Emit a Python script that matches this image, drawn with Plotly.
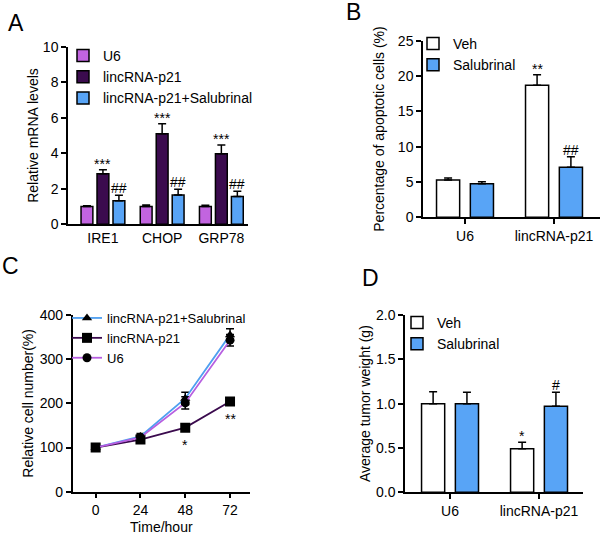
import plotly.graph_objects as go

# ---------------- data ----------------
# Panel A
genes = ["IRE1", "CHOP", "GRP78"]
a_u6 = [1.0, 1.0, 1.0]
a_u6_err = [0.05, 0.08, 0.07]
a_linc = [2.85, 5.1, 3.97]
a_linc_err = [0.22, 0.56, 0.5]
a_salu = [1.33, 1.65, 1.56]
a_salu_err = [0.3, 0.33, 0.3]
a_linc_sig = ["***", "***", "***"]
a_salu_sig = ["##", "##", "##"]

# Panel B
b_groups = ["U6", "lincRNA-p21"]
b_veh = [5.28, 18.68]
b_veh_err = [0.28, 1.5]
b_salu = [4.76, 7.08]
b_salu_err = [0.28, 1.5]
b_veh_sig = ["", "**"]
b_salu_sig = ["", "##"]

# Panel C
hours = [0, 24, 48, 72]
c_salu = [100, 125, 211, 355]
c_salu_err = [6, 7, 14, 14]
c_linc = [100, 118, 145, 204]
c_linc_err = [6, 6, 8, 8]
c_u6 = [100, 123, 201, 343]
c_u6_err = [6, 6, 14, 13]
c_sig = ["", "", "*", "**"]

# Panel D
d_groups = ["U6", "lincRNA-p21"]
d_veh = [1.0, 0.49]
d_veh_err = [0.135, 0.075]
d_salu = [1.0, 0.97]
d_salu_err = [0.13, 0.16]
d_veh_sig = ["", "*"]
d_salu_sig = ["", "#"]

# ---------------- style ----------------
FONT = "Arial, Liberation Sans, sans-serif"
U6C = "#c264e0"
LINC = "#3b0b4e"
BLUE = "#58a4f6"
W = 600
H = 535


def px_x(p):
    return p / W


def px_y(p):
    return 1 - p / H


fig = go.Figure()


def err(arr):
    return dict(type="data", array=arr, arrayminus=[0] * len(arr), symmetric=False,
                color="black", thickness=1.5, width=4)


def bar(x, y, e, name, color, width, offset, xa, ya, leg):
    fig.add_trace(go.Bar(
        x=x, y=y, name=name, width=width, offset=offset,
        marker=dict(color=color, line=dict(color="black", width=1.5)),
        error_y=err(e), xaxis=xa, yaxis=ya, legend=leg,
    ))


# Panel A bars
aw = 0.2
a_centers = [-0.27, 0.0, 0.27]
bar(genes, a_u6, a_u6_err, "U6", U6C, aw, a_centers[0] - aw / 2, "x", "y", "legend")
bar(genes, a_linc, a_linc_err, "lincRNA-p21", LINC, aw, a_centers[1] - aw / 2, "x", "y", "legend")
bar(genes, a_salu, a_salu_err, "lincRNA-p21+Salubrinal", BLUE, aw, a_centers[2] - aw / 2, "x", "y", "legend")

# Panel B bars
bw = 0.26
bc = [-0.19, 0.19]
bar(b_groups, b_veh, b_veh_err, "Veh", "white", bw, bc[0] - bw / 2, "x2", "y2", "legend2")
bar(b_groups, b_salu, b_salu_err, "Salubrinal", BLUE, bw, bc[1] - bw / 2, "x2", "y2", "legend2")

# Panel D bars
bar(d_groups, d_veh, d_veh_err, "Veh", "white", bw, bc[0] - bw / 2, "x4", "y4", "legend4")
bar(d_groups, d_salu, d_salu_err, "Salubrinal", BLUE, bw, bc[1] - bw / 2, "x4", "y4", "legend4")

# Panel C lines
for name, vals, e, lc, sym, ms in [
    ("lincRNA-p21+Salubrinal", c_salu, c_salu_err, "#4f9ff0", "triangle-up", 9),
    ("lincRNA-p21", c_linc, c_linc_err, LINC, "square", 10),
    ("U6", c_u6, c_u6_err, "#b75fe0", "circle", 9),
]:
    fig.add_trace(go.Scatter(
        x=hours, y=vals, name=name, mode="lines+markers",
        line=dict(color=lc, width=1.8),
        marker=dict(color="black", symbol=sym, size=ms),
        error_y=dict(type="data", array=e, color="black", thickness=1.5, width=4),
        xaxis="x3", yaxis="y3", legend="legend3",
    ))

annotations = []


def sig(xs, ys, es, texts, xref, yref, shift):
    for xv, yv, ev, t in zip(xs, ys, es, texts):
        if t:
            annotations.append(dict(
                x=xv, y=yv + ev, xref=xref, yref=yref, text=t, showarrow=False,
                yanchor="bottom", yshift=shift, font=dict(size=14, family=FONT, color="black")))


sig([i + a_centers[1] for i in range(3)], a_linc, a_linc_err, a_linc_sig, "x", "y", -4)
sig([i + a_centers[2] for i in range(3)], a_salu, a_salu_err, a_salu_sig, "x", "y", -3)
sig([i + bc[0] for i in range(2)], b_veh, b_veh_err, b_veh_sig, "x2", "y2", -4)
sig([i + bc[1] for i in range(2)], b_salu, b_salu_err, b_salu_sig, "x2", "y2", -3)
sig([i + bc[0] for i in range(2)], d_veh, d_veh_err, d_veh_sig, "x4", "y4", -4)
sig([i + bc[1] for i in range(2)], d_salu, d_salu_err, d_salu_sig, "x4", "y4", -3)

for xv, yv, ev, t in zip(hours, c_linc, c_linc_err, c_sig):
    if t:
        annotations.append(dict(
            x=xv, y=yv - ev, xref="x3", yref="y3", text=t, showarrow=False,
            yanchor="top", yshift=-4, font=dict(size=14, family=FONT, color="black")))

# panel letters
for letter, cx, cy in [("A", 16, 23), ("B", 353, 12), ("C", 10, 266), ("D", 370, 278)]:
    annotations.append(dict(
        x=px_x(cx), y=px_y(cy), xref="paper", yref="paper", text=letter, showarrow=False,
        xanchor="center", yanchor="middle", font=dict(size=23, family=FONT, color="black")))

axis_common = dict(showgrid=False, zeroline=False, showline=True, linecolor="black", linewidth=1.5,
                   ticks="outside", ticklen=5, tickwidth=1.5, tickcolor="black", automargin=False,
                   tickfont=dict(size=14, family=FONT, color="black"))
title_font = dict(size=14, family=FONT, color="black")

fig.update_layout(
    width=W, height=H, margin=dict(l=0, r=0, t=0, b=0, autoexpand=False),
    paper_bgcolor="white", plot_bgcolor="white", barmode="overlay",
    font=dict(family=FONT, size=14, color="black"),
    xaxis=dict(axis_common, domain=[px_x(68), px_x(248)], range=[-0.59, 2.45], ticks="", ticklen=0,
               anchor="y", type="category"),
    yaxis=dict(axis_common, domain=[px_y(224.3), px_y(46.7)], range=[0, 10], dtick=2, anchor="x",
               title=dict(text="Relative mRNA levels", font=title_font, standoff=1)),
    xaxis2=dict(axis_common, domain=[px_x(423), 1.0], range=[-0.472, 1.517], anchor="y2", type="category"),
    yaxis2=dict(axis_common, domain=[px_y(217.3), px_y(40.7)], range=[0, 25], dtick=5, anchor="x2",
                title=dict(text="Percentage of apoptotic cells (%)", font=title_font, standoff=10)),
    xaxis3=dict(axis_common, domain=[px_x(72.7), px_x(250)], range=[-12.3, 82.7], tickvals=hours,
                anchor="y3", title=dict(text="Time/hour", font=title_font, standoff=5)),
    yaxis3=dict(axis_common, domain=[px_y(491.7), px_y(315)], range=[0, 400], dtick=100, anchor="x3",
                title=dict(text="Relative cell number(%)", font=title_font, standoff=3)),
    xaxis4=dict(axis_common, domain=[px_x(405), px_x(583)], range=[-0.506, 1.494], anchor="y4", type="category"),
    yaxis4=dict(axis_common, domain=[px_y(492.3), px_y(315)], range=[0, 2], dtick=0.5, tickformat=".1f",
                anchor="x4", title=dict(text="Average tumor weight (g)", font=title_font, standoff=2)),
    legend=dict(x=px_x(63), y=px_y(40), xanchor="left", yanchor="top", bgcolor="rgba(0,0,0,0)",
                font=dict(size=14, family=FONT), tracegroupgap=0),
    legend2=dict(x=px_x(413), y=px_y(28), xanchor="left", yanchor="top", bgcolor="rgba(0,0,0,0)",
                 font=dict(size=14, family=FONT), tracegroupgap=0),
    legend3=dict(x=px_x(67), y=px_y(303), xanchor="left", yanchor="top", bgcolor="rgba(0,0,0,0)",
                 font=dict(size=13, family=FONT), tracegroupgap=0),
    legend4=dict(x=px_x(397), y=px_y(307), xanchor="left", yanchor="top", bgcolor="rgba(0,0,0,0)",
                 font=dict(size=14, family=FONT), tracegroupgap=0),
    annotations=annotations,
    showlegend=True,
)

fig.write_html("out.html", post_script="document.body.style.margin='0';",
               config={"displayModeBar": False})
